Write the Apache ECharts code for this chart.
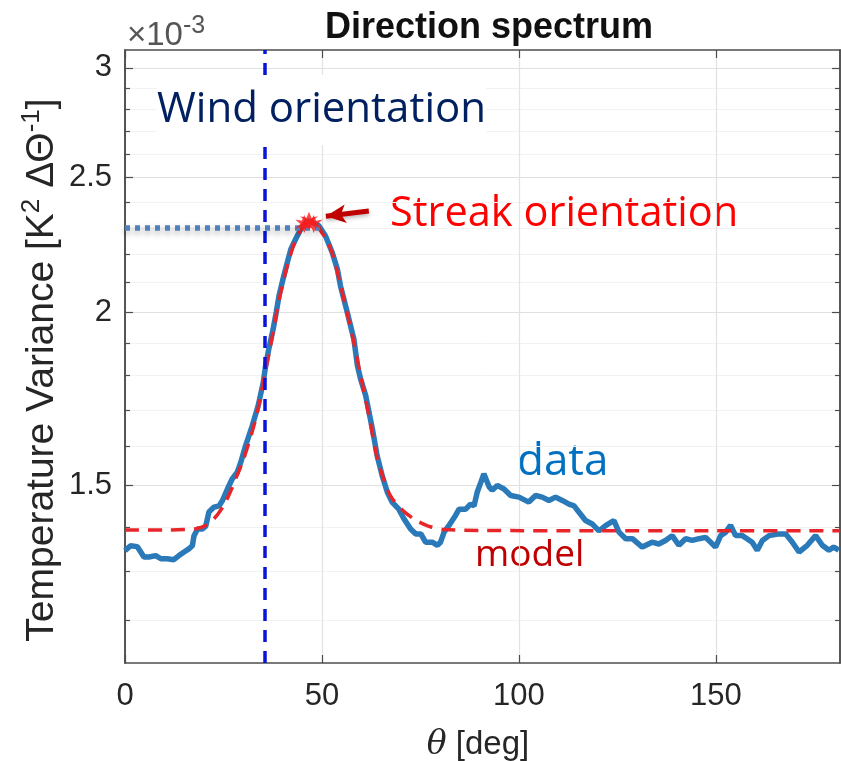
<!DOCTYPE html>
<html>
<head>
<meta charset="utf-8">
<title>Direction spectrum</title>
<script src="https://cdn.jsdelivr.net/npm/echarts@6/dist/echarts.min.js"></script>
<style>
  html, body { margin: 0; padding: 0; background: #fff; }
  #chart { width: 841px; height: 761px; }
</style>
</head>
<body>
<div id="chart"></div>
<script>
  // measured spectrum: angle [deg] and variance [x1e-3 K^2 / dTheta]
  const theta = [0, 1.4, 3.1, 4.0, 4.8, 6.1, 7.8, 9.1, 10.7, 12.4,
    13.7, 15.0, 16.2, 17.1, 17.5, 18.4, 19.6, 20.5, 21.3, 22.6,
    23.9, 24.7, 26.0, 27.2, 28.5, 29.4, 30.6, 32.3, 33.8, 35.1,
    35.7, 36.5, 37.6, 38.4, 39.1, 40.1, 41.2, 42.1, 43.3, 44.6,
    45.9, 46.7, 49.2, 50.9, 52.6, 53.9, 54.7, 56.4, 58.1, 59.0,
    59.8, 61.1, 62.8, 64.0, 65.3, 66.6, 67.8, 69.5, 70.8, 72.5,
    73.8, 75.1, 76.3, 78.0, 79.3, 80.1, 81.0, 82.2, 83.9, 84.8,
    86.5, 87.7, 88.6, 89.4, 90.3, 91.1, 92.4, 93.2, 94.5, 96.2,
    97.9, 100.0, 102.5, 104.2, 105.9, 107.6, 109.3, 111.0, 112.7, 114.0,
    115.2, 116.9, 118.6, 120.3, 122.0, 124.1, 125.4, 127.1, 128.8, 131.3,
    133.8, 135.5, 137.2, 138.9, 140.6, 142.3, 144.0, 145.7, 147.4, 149.9,
    151.2, 152.5, 153.7, 155.0, 156.7, 157.9, 159.2, 160.5, 161.8, 163.5,
    166.0, 167.7, 169.4, 171.1, 173.2, 175.3, 177.0, 178.7, 179.9, 181.2]
  const variance = [1.346, 1.357, 1.355, 1.343, 1.332, 1.332, 1.335, 1.328, 1.328, 1.326,
    1.335, 1.343, 1.350, 1.357, 1.379, 1.395, 1.395, 1.402, 1.435, 1.447,
    1.450, 1.462, 1.491, 1.516, 1.533, 1.559, 1.602, 1.656, 1.712, 1.780,
    1.830, 1.881, 1.944, 2.000, 2.055, 2.112, 2.172, 2.220, 2.257, 2.295,
    2.322, 2.327, 2.308, 2.269, 2.208, 2.148, 2.089, 2.000, 1.912, 1.830,
    1.790, 1.741, 1.647, 1.576, 1.524, 1.483, 1.459, 1.442, 1.419, 1.395,
    1.384, 1.384, 1.365, 1.365, 1.358, 1.365, 1.388, 1.403, 1.427, 1.442,
    1.442, 1.454, 1.450, 1.483, 1.507, 1.529, 1.497, 1.488, 1.500, 1.491,
    1.475, 1.471, 1.459, 1.475, 1.471, 1.463, 1.471, 1.463, 1.454, 1.450,
    1.435, 1.415, 1.407, 1.391, 1.403, 1.415, 1.388, 1.373, 1.373, 1.354,
    1.365, 1.361, 1.369, 1.380, 1.358, 1.373, 1.369, 1.373, 1.376, 1.354,
    1.380, 1.388, 1.404, 1.380, 1.380, 1.373, 1.365, 1.347, 1.369, 1.380,
    1.384, 1.384, 1.365, 1.343, 1.358, 1.380, 1.358, 1.347, 1.354, 1.347]

  // fitted model
  const modelTheta = [0, 10, 15, 18, 20.2, 22.6, 25.0, 26.7, 28.4, 30.1,
    32.3, 33.8, 35.7, 37.6, 39.1, 41.2, 43.3, 45.0, 46.7, 48.5,
    50.9, 52.6, 54.7, 56.4, 58.1, 59.8, 62.0, 64.0, 66.6, 68.0,
    71.0, 74.0, 77.0, 81.0, 90, 120, 150, 181.5]
  const modelVariance = [1.393, 1.393, 1.394, 1.396, 1.402, 1.419, 1.450, 1.483, 1.524, 1.567,
    1.640, 1.705, 1.815, 1.935, 2.040, 2.160, 2.255, 2.300, 2.318, 2.308,
    2.262, 2.205, 2.092, 1.995, 1.900, 1.800, 1.680, 1.570, 1.490, 1.465,
    1.435, 1.415, 1.402, 1.394, 1.392, 1.391, 1.391, 1.391]

  // peak markers (streak orientation)
  const peakTheta = [45.5, 46.7, 47.9]
  const peakVariance = [2.315, 2.327, 2.315]

  const xTicks = [0, 50, 100, 150]
  const yLabels = [1.5, 2, 2.5, 3]
  const yMinor = [1.2, 1.3, 1.4, 1.6, 1.7, 1.8, 1.9, 2.1, 2.2, 2.3, 2.4, 2.6, 2.7, 2.8, 2.9]

  const windAngle = 35.5
  const streakLevel = 2.299
  const streakEnd = 50
  const arrowFrom = [61.9, 2.365]
  const arrowTo = [51.0, 2.345]

  const xMin = 0, xMax = 181.5
  const yMin = 1.117, yMax = 3.09

  const zip = (a, b) => a.map((v, i) => [v, b[i]])

  const chart = echarts.init(document.getElementById('chart'))
  const axisGray = '#4d4d4d'
  const textGray = '#262626'

  const logAxis = (pos, ticks, len, showLabel, split) => ({
    type: 'log',
    logBase: 10,
    position: pos,
    min: yMin,
    max: yMax,
    axisLine: {show: true, lineStyle: {color: axisGray, width: 1.5}},
    axisTick: {show: true, inside: true, length: len, customValues: ticks, lineStyle: {color: axisGray, width: 1.2}},
    axisLabel: {
      show: showLabel,
      customValues: ticks,
      margin: 13,
      color: textGray,
      fontSize: 31,
      fontFamily: 'Liberation Sans',
      formatter: v => String(+v.toFixed(1))
    },
    splitLine: split,
    minorTick: {show: false},
    minorSplitLine: {show: false}
  })

  chart.setOption({
    animation: false,
    title: {
      text: 'Direction spectrum',
      left: 484,
      top: 5,
      textAlign: 'center',
      textStyle: {fontFamily: 'Liberation Sans', fontWeight: 'bold', fontSize: 36, color: '#111'}
    },
    grid: {left: 125, right: 1, top: 50, bottom: 98},
    xAxis: [{
      type: 'value',
      min: xMin,
      max: xMax,
      position: 'bottom',
      axisLine: {show: true, lineStyle: {color: axisGray, width: 1.5}},
      axisTick: {inside: true, length: 8, customValues: xTicks, lineStyle: {color: axisGray, width: 1.2}},
      axisLabel: {customValues: xTicks, margin: 18, color: textGray, fontSize: 31, fontFamily: 'Liberation Sans'},
      splitLine: {show: true, lineStyle: {color: '#e2e2e2', width: 1.2}}
    }, {
      type: 'value',
      min: xMin,
      max: xMax,
      position: 'top',
      axisLine: {show: true, lineStyle: {color: axisGray, width: 1.5}},
      axisTick: {inside: true, length: 8, customValues: xTicks, lineStyle: {color: axisGray, width: 1.2}},
      axisLabel: {show: false},
      splitLine: {show: false}
    }],
    yAxis: [
      logAxis('left', yLabels, 8, true, {show: true, lineStyle: {color: '#e0e0e0', width: 1.2}}),
      logAxis('left', yMinor, 5, false, {show: true, lineStyle: {color: '#f2f2f2', width: 1}}),
      logAxis('right', yLabels, 8, false, {show: false}),
      logAxis('right', yMinor, 5, false, {show: false})
    ],
    series: [
      {
        name: 'data',
        type: 'line',
        data: zip(theta, variance),
        showSymbol: false,
        lineStyle: {color: '#2a79b8', width: 5.5},
        z: 3,
        markLine: {
          silent: true,
          symbol: 'none',
          label: {show: false},
          emphasis: {disabled: true},
          data: [
            [{coord: [windAngle, yMin]}, {coord: [windAngle, yMax],
              lineStyle: {color: '#0a14d8', width: 3.5, type: [12, 9]}}],
            [{coord: [xMin, streakLevel]}, {coord: [streakEnd, streakLevel],
              lineStyle: {color: '#4f81bd', width: 5.5, type: [5, 5],
                shadowColor: 'rgba(0,0,0,0.35)', shadowBlur: 6, shadowOffsetY: 3}}],
            [{coord: arrowFrom, symbol: 'none'}, {coord: arrowTo, symbol: 'arrow', symbolSize: [14, 20],
              lineStyle: {color: '#c00000', width: 5, type: 'solid',
                shadowColor: 'rgba(0,0,0,0.3)', shadowBlur: 4, shadowOffsetY: 2}}]
          ]
        }
      },
      {
        name: 'model',
        type: 'line',
        data: zip(modelTheta, modelVariance),
        showSymbol: false,
        smooth: 0.3,
        lineStyle: {color: '#e8262a', width: 3.5, type: [14, 9]},
        z: 4
      },
      {
        name: 'peak',
        type: 'scatter',
        data: zip(peakTheta, peakVariance),
        symbol: 'path://M0,-10 L2.5,-3.5 L9,-5 L4,0 L9,5 L2.5,3.5 L0,10 L-2.5,3.5 L-9,5 L-4,0 L-9,-5 L-2.5,-3.5 Z',
        symbolSize: 18,
        itemStyle: {color: '#ff1a1a'},
        z: 5
      }
    ],
    graphic: [
      {
        type: 'text', x: 127, y: 14,
        style: {
          text: '{a|×10}{s|-3}',
          rich: {
            a: {fontSize: 33, fontFamily: 'Liberation Sans', fill: '#555'},
            s: {fontSize: 25, fontFamily: 'Liberation Sans', fill: '#555', padding: [0, 0, 18, 0]}
          }
        }
      },
      {
        type: 'text', x: 42, y: 370, rotation: Math.PI / 2,
        style: {
          text: '{a|Temperature Variance [K}{s|2}{a| ΔΘ}{s|-1}{a|]}',
          align: 'center', verticalAlign: 'middle',
          rich: {
            a: {fontSize: 39, fontFamily: 'Liberation Sans', fill: textGray},
            s: {fontSize: 26, fontFamily: 'Liberation Sans', fill: textGray, padding: [0, 0, 20, 0]}
          }
        }
      },
      {
        type: 'text', x: 478, y: 745,
        style: {
          text: '{t|θ}{a| [deg]}',
          align: 'center', verticalAlign: 'middle',
          rich: {
            t: {fontSize: 33, fontFamily: 'DejaVu Serif', fontStyle: 'italic', fill: textGray},
            a: {fontSize: 33, fontFamily: 'Liberation Sans', fill: textGray}
          }
        }
      },
      {
        type: 'text', x: 157, y: 110, z: 10,
        style: {text: 'Wind orientation', fontSize: 42, fontFamily: 'Open Sans', fill: '#002060',
          verticalAlign: 'middle', backgroundColor: '#fff', padding: [14, 0, 14, 0]}
      },
      {
        type: 'text', x: 390, y: 214,
        style: {text: 'Streak orientation', fontSize: 41.5, fontFamily: 'Open Sans', fill: '#ff0000', verticalAlign: 'middle'}
      },
      {
        type: 'text', x: 517, y: 462,
        style: {text: 'data', fontSize: 44, fontFamily: 'Open Sans', fill: '#0070c0', verticalAlign: 'middle'}
      },
      {
        type: 'text', x: 475, y: 555,
        style: {text: 'model', fontSize: 37, fontFamily: 'Open Sans', fill: '#c00000', verticalAlign: 'middle'}
      }
    ]
  })
</script>
</body>
</html>
